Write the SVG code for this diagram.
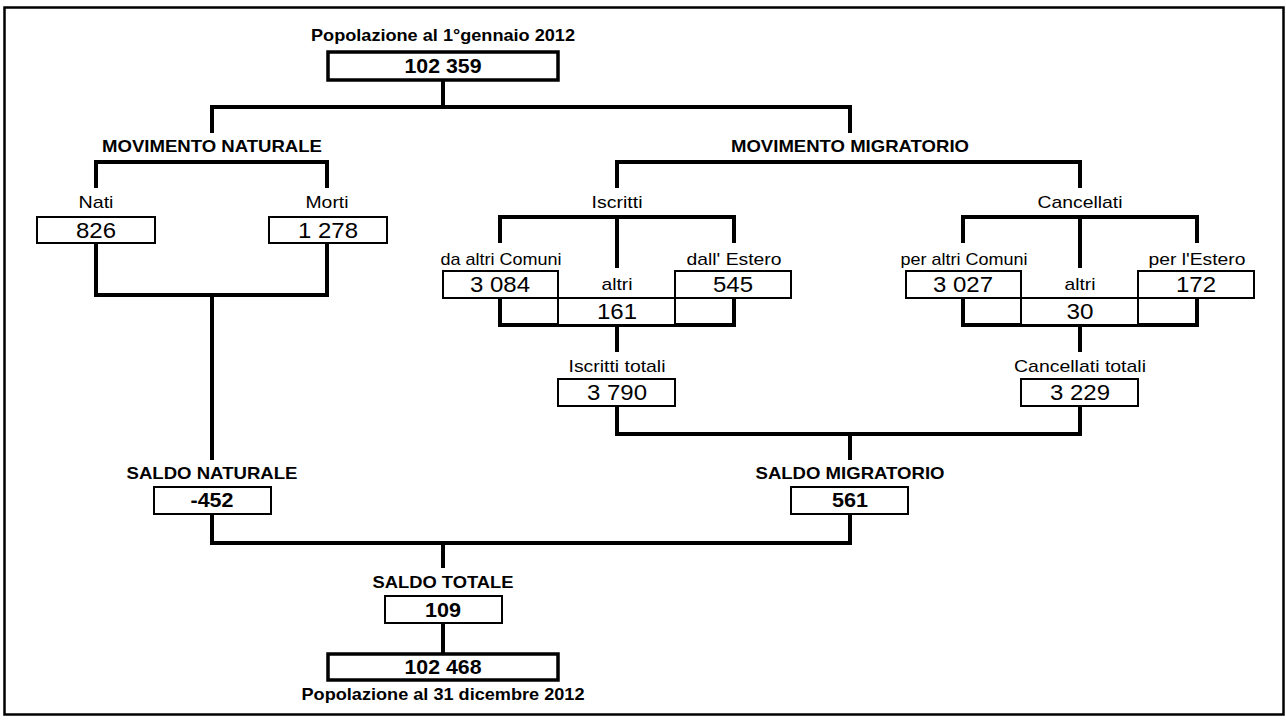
<svg xmlns="http://www.w3.org/2000/svg" width="1286" height="720" viewBox="0 0 1286 720">
<style>
.bg{fill:#fff}
.frame{fill:none;stroke:#000;stroke-width:2.5}
.big{fill:#fff;stroke:#000;stroke-width:3.5}
.box{fill:#fff;stroke:#000;stroke-width:2}
.thin{fill:none;stroke:#000;stroke-width:2}
.conn{fill:none;stroke:#000;stroke-width:4;stroke-linecap:butt;stroke-linejoin:miter}
text{font-family:"Liberation Sans",Arial,sans-serif;fill:#000;text-anchor:middle}
.hb{font-size:16.5px;font-weight:bold}
.nb{font-size:19.5px;font-weight:bold}
.lb{font-size:17px}
.nr{font-size:22px}
</style>
<rect class="bg" x="0" y="0" width="1286" height="720"/>
<rect class="frame" x="4.5" y="7.5" width="1279" height="707"/>

<g id="connectors">
<path class="conn" d="M443,81 V107 M212,107 H850 M212,105 V133 M850,105 V133"/>
<path class="conn" d="M96,188 V162 H327 V188"/>
<path class="conn" d="M617,188 V162 H1080 V188"/>
<path class="conn" d="M96,243 V295 H327 V243 M212,295 V460"/>
<path class="conn" d="M500,243 V217 H734 V243 M617,217 V268"/>
<path class="conn" d="M963,243 V217 H1197 V243 M1080,217 V268"/>
<path class="conn" d="M500,298 V325 H734 V298 M617,325 V352"/>
<path class="conn" d="M963,298 V325 H1197 V298 M1080,325 V352"/>
<path class="conn" d="M617,406 V434 H1080 V406 M850,434 V460"/>
<path class="conn" d="M212,514 V543 H850 V514 M443,543 V568"/>
<path class="conn" d="M443,623 V653"/>
</g>

<g id="pop-inizio">
<text class="hb" x="443" y="41" textLength="264" lengthAdjust="spacingAndGlyphs">Popolazione al 1°gennaio 2012</text>
<rect class="big" x="328" y="52" width="230" height="28"/>
<text class="nb" x="443" y="73" textLength="77" lengthAdjust="spacingAndGlyphs">102 359</text>
</g>

<g id="mov-naturale">
<text class="hb" x="212" y="152" textLength="220" lengthAdjust="spacingAndGlyphs">MOVIMENTO NATURALE</text>
</g>
<g id="mov-migratorio">
<text class="hb" x="850" y="152" textLength="238" lengthAdjust="spacingAndGlyphs">MOVIMENTO MIGRATORIO</text>
</g>

<g id="nati">
<text class="lb" x="96" y="208" textLength="35" lengthAdjust="spacingAndGlyphs">Nati</text>
<rect class="box" x="37" y="217" width="118" height="26"/>
<text class="nr" x="96" y="238" textLength="40" lengthAdjust="spacingAndGlyphs">826</text>
</g>
<g id="morti">
<text class="lb" x="327" y="208" textLength="43" lengthAdjust="spacingAndGlyphs">Morti</text>
<rect class="box" x="269" y="217" width="118" height="26"/>
<text class="nr" x="328" y="238" textLength="60" lengthAdjust="spacingAndGlyphs">1 278</text>
</g>

<g id="iscritti">
<text class="lb" x="617" y="208" textLength="51" lengthAdjust="spacingAndGlyphs">Iscritti</text>
</g>
<g id="iscr-comuni">
<text class="lb" x="501" y="265" textLength="121" lengthAdjust="spacingAndGlyphs">da altri Comuni</text>
<rect class="box" x="443" y="271" width="115" height="27"/>
<text class="nr" x="500" y="292" textLength="60" lengthAdjust="spacingAndGlyphs">3 084</text>
</g>
<g id="iscr-estero">
<text class="lb" x="734" y="265" textLength="95" lengthAdjust="spacingAndGlyphs">dall' Estero</text>
<rect class="box" x="675" y="271" width="116" height="27"/>
<text class="nr" x="733" y="292" textLength="40" lengthAdjust="spacingAndGlyphs">545</text>
</g>
<g id="iscr-altri">
<text class="lb" x="617" y="290" textLength="31" lengthAdjust="spacingAndGlyphs">altri</text>
<rect class="box" x="558" y="298" width="117" height="27"/>
<text class="nr" x="617" y="319" textLength="40" lengthAdjust="spacingAndGlyphs">161</text>
</g>
<g id="iscr-totali">
<text class="lb" x="617" y="372" textLength="97" lengthAdjust="spacingAndGlyphs">Iscritti totali</text>
<rect class="box" x="558" y="379" width="117" height="27"/>
<text class="nr" x="617" y="400" textLength="60" lengthAdjust="spacingAndGlyphs">3 790</text>
</g>

<g id="cancellati">
<text class="lb" x="1080" y="208" textLength="85" lengthAdjust="spacingAndGlyphs">Cancellati</text>
</g>
<g id="canc-comuni">
<text class="lb" x="964" y="265" textLength="127" lengthAdjust="spacingAndGlyphs">per altri Comuni</text>
<rect class="box" x="906" y="271" width="115" height="27"/>
<text class="nr" x="963" y="292" textLength="60" lengthAdjust="spacingAndGlyphs">3 027</text>
</g>
<g id="canc-estero">
<text class="lb" x="1197" y="265" textLength="97" lengthAdjust="spacingAndGlyphs">per l'Estero</text>
<rect class="box" x="1138" y="271" width="116" height="27"/>
<text class="nr" x="1196" y="292" textLength="40" lengthAdjust="spacingAndGlyphs">172</text>
</g>
<g id="canc-altri">
<text class="lb" x="1080" y="290" textLength="31" lengthAdjust="spacingAndGlyphs">altri</text>
<rect class="box" x="1021" y="298" width="117" height="27"/>
<text class="nr" x="1080" y="319" textLength="27" lengthAdjust="spacingAndGlyphs">30</text>
</g>
<g id="canc-totali">
<text class="lb" x="1080" y="372" textLength="132" lengthAdjust="spacingAndGlyphs">Cancellati totali</text>
<rect class="box" x="1021" y="379" width="117" height="27"/>
<text class="nr" x="1080" y="400" textLength="60" lengthAdjust="spacingAndGlyphs">3 229</text>
</g>

<g id="saldo-naturale">
<text class="hb" x="212" y="479" textLength="171" lengthAdjust="spacingAndGlyphs">SALDO NATURALE</text>
<rect class="box" x="154" y="487" width="117" height="27"/>
<text class="nb" x="212" y="507" textLength="43" lengthAdjust="spacingAndGlyphs">-452</text>
</g>
<g id="saldo-migratorio">
<text class="hb" x="850" y="479" textLength="189" lengthAdjust="spacingAndGlyphs">SALDO MIGRATORIO</text>
<rect class="box" x="791" y="487" width="117" height="27"/>
<text class="nb" x="850" y="507" textLength="36" lengthAdjust="spacingAndGlyphs">561</text>
</g>
<g id="saldo-totale">
<text class="hb" x="443" y="588" textLength="141" lengthAdjust="spacingAndGlyphs">SALDO TOTALE</text>
<rect class="box" x="385" y="596" width="117" height="27"/>
<text class="nb" x="443" y="617" textLength="36" lengthAdjust="spacingAndGlyphs">109</text>
</g>
<g id="pop-fine">
<rect class="big" x="328" y="654" width="230" height="26"/>
<text class="nb" x="443" y="674" textLength="77" lengthAdjust="spacingAndGlyphs">102 468</text>
<text class="hb" x="443" y="700" textLength="283" lengthAdjust="spacingAndGlyphs">Popolazione al 31 dicembre 2012</text>
</g>
</svg>
